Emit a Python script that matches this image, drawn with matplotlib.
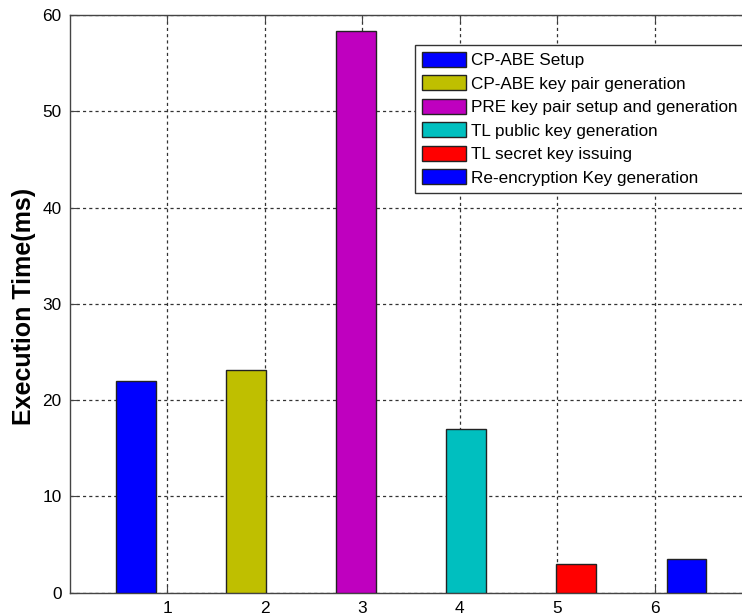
import numpy as np
import matplotlib
matplotlib.use("Agg")
import matplotlib.pyplot as plt

plt.rcParams['font.family'] = ['Liberation Sans', 'DejaVu Sans']

# Execution time of each operation (ms)
labels = ["CP-ABE Setup", "CP-ABE key pair generation",
          "PRE key pair setup and generation", "TL public key generation",
          "TL secret key issuing", "Re-encryption Key generation"]
times = [22.0, 23.1, 58.4, 17.0, 3.0, 3.5]
colors = ["#0000ff", "#bfbf00", "#bf00bf", "#00bfbf", "#ff0000", "#0000ff"]
groups = [1, 2, 3, 4, 5, 6]

fig = plt.figure(figsize=(7.42, 6.15), dpi=100)
ax = fig.add_axes([0.0943, 0.0363, 0.9196, 0.939])

# grouped-bar layout: each series sits at its own offset inside the group
step = 0.13
width = 0.41
for j, (g, t, c, lab) in enumerate(zip(groups, times, colors, labels)):
    off = (j - 2.5) * step
    ax.bar(g + off, t, width=width, color=c, edgecolor="#222222",
           linewidth=1.0, label=lab, zorder=3)

ax.set_xlim(0, 7)
ax.set_ylim(0, 60)
ax.set_xticks(groups)
ax.set_yticks(np.arange(0, 61, 10))
ax.grid(True, color="#333333", linestyle=(0, (2.5, 2.5)), linewidth=0.9)
ax.set_axisbelow(True)
ax.tick_params(direction="in", top=True, right=True, labelsize=12.4, length=5,
               pad=6, color="#444444")
for s in ax.spines.values():
    s.set_color("#444444")
    s.set_linewidth(1.0)

ax.set_ylabel("Execution Time(ms)", fontsize=18, fontweight="bold")
ax.yaxis.set_label_coords(-0.05, 0.495)

leg = ax.legend(loc="upper left", bbox_to_anchor=(0.5056, 0.9486),
                fontsize=12.3, fancybox=False, framealpha=1,
                edgecolor="#333333", borderaxespad=0, handlelength=2.6,
                handleheight=1.0, handletextpad=0.3, labelspacing=0.41,
                borderpad=0.4)
leg.get_frame().set_linewidth(1.0)

fig.savefig("out.png", dpi=100)
